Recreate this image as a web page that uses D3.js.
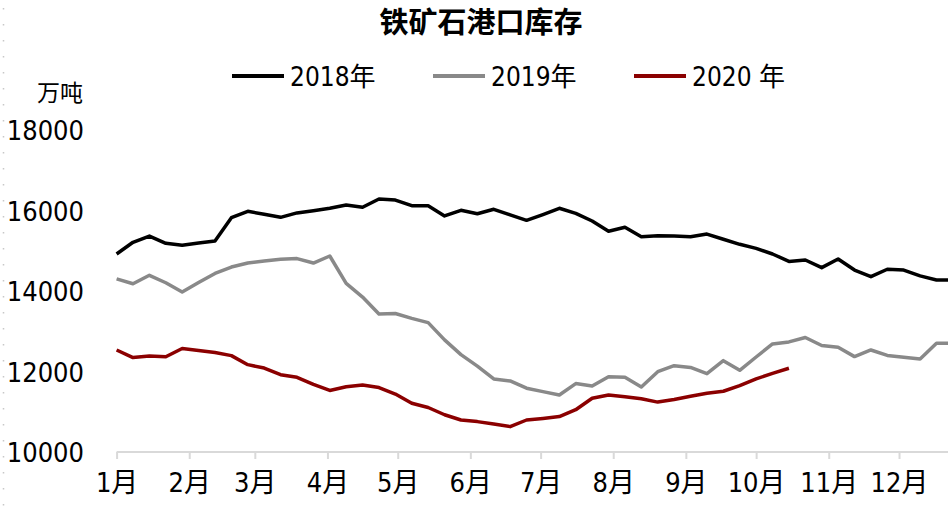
<!DOCTYPE html>
<html>
<head>
<meta charset="utf-8">
<style>
  body { margin: 0; background: #fff; }
  svg text { font-family: "Liberation Sans Narrow", "DejaVu Sans Condensed", "Noto Sans CJK SC", sans-serif; fill: #000; }
  .title { font-family: "Noto Sans CJK SC", sans-serif; font-weight: bold; font-size: 29px; }
  .axis text { font-size: 27px; }
  .legend text { font-size: 26px; }
</style>
</head>
<body>
<svg id="chart" width="948" height="509"></svg>
<script src="https://cdn.jsdelivr.net/npm/d3@7"></script>
<script>
// weekly readings, first week starting 1 Jan
var years = ["2018年", "2019年", "2020 年"];
var colors = ["#000000", "#898989", "#8b0000"];

var v2018 = [14920, 15210, 15365, 15185, 15135, 15190, 15240, 15820, 15980, 15905,
  15830, 15940, 15995, 16055, 16135, 16080, 16285, 16260, 16120, 16120,
  15865, 16005, 15920, 16030, 15890, 15755, 15900, 16055, 15930, 15740,
  15485, 15585, 15350, 15375, 15365, 15350, 15415, 15285, 15160, 15060,
  14920, 14735, 14770, 14580, 14795, 14520, 14355, 14540, 14520, 14375,
  14275, 14275];

var v2019 = [14300, 14180, 14390, 14205, 13975, 14210, 14435, 14595, 14695, 14745,
  14790, 14805, 14695, 14870, 14190, 13850, 13430, 13440, 13320, 13215,
  12785, 12420, 12135, 11815, 11765, 11585, 11500, 11415, 11700, 11640,
  11870, 11855, 11615, 11995, 12145, 12100, 11945, 12270, 12030, 12360,
  12685, 12735, 12845, 12645, 12600, 12370, 12535, 12400, 12355, 12310,
  12700, 12700];

var v2020 = [12535, 12345, 12385, 12365, 12570, 12520, 12470, 12395, 12170, 12085,
  11920, 11855, 11680, 11530, 11620, 11665, 11600, 11440, 11210, 11105,
  10925, 10795, 10755, 10695, 10630, 10795, 10835, 10880, 11050, 11335,
  11415, 11375, 11325, 11240, 11305, 11385, 11460, 11510, 11650, 11815,
  11955, 12080];

var yTicks = [10000, 12000, 14000, 16000, 18000];
var monthLabels = ["1月", "2月", "3月", "4月", "5月", "6月", "7月", "8月", "9月", "10月", "11月", "12月"];

var svg = d3.select("#chart");
var start = new Date(2019, 0, 1);

var x = d3.scaleTime()
  .domain([start, new Date(2019, 11, 31)])
  .range([116.6, 969.3]);
var y = d3.scaleLinear()
  .domain([10000, 18000])
  .range([452, 130]);

function toPoints(vals) {
  return vals.map(function(v, i) { return { date: d3.timeDay.offset(start, 7 * i), value: v }; });
}
var series = [v2018, v2019, v2020].map(toPoints);

// dotted frame edge on the left
svg.append("line")
  .attr("x1", 3.5).attr("x2", 3.5).attr("y1", 8).attr("y2", 509)
  .attr("stroke", "#c8c8c8").attr("stroke-width", 1.5)
  .attr("stroke-dasharray", "1.5,14.5");

svg.append("text").attr("class", "title")
  .attr("x", 481).attr("y", 33)
  .attr("text-anchor", "middle")
  .text("铁矿石港口库存");

// legend
var legendX = [232, 433, 634];
var legend = svg.append("g").attr("class", "legend");
years.forEach(function(name, i) {
  legend.append("line")
    .attr("x1", legendX[i]).attr("x2", legendX[i] + 52)
    .attr("y1", 76).attr("y2", 76)
    .attr("stroke", colors[i]).attr("stroke-width", 4);
  legend.append("text")
    .attr("x", legendX[i] + 58).attr("y", 86)
    .text(name);
});

svg.append("text")
  .attr("x", 83).attr("y", 101)
  .attr("text-anchor", "end")
  .style("font-size", "23px")
  .style("font-family", "'Noto Sans CJK SC', sans-serif")
  .text("万吨");

// y axis: labels only
svg.append("g").attr("class", "axis")
  .attr("transform", "translate(84,0)")
  .call(d3.axisLeft(y).tickValues(yTicks).tickSize(0).tickPadding(0).tickFormat(d3.format("d")))
  .call(function(g) { g.select(".domain").remove(); })
  .selectAll("text").attr("dy", "0.36em");

// x axis
var xAxis = svg.append("g").attr("class", "axis")
  .attr("transform", "translate(0,452)")
  .call(d3.axisBottom(x).ticks(d3.timeMonth.every(1)).tickSize(7).tickPadding(14)
    .tickFormat(function(d) { return monthLabels[d.getMonth()]; }));
xAxis.select(".domain").attr("stroke", "#d9d9d9").attr("stroke-width", 2)
  .attr("d", "M116.6,0H948");
xAxis.selectAll(".tick line").attr("stroke", "#d9d9d9").attr("stroke-width", 2);
xAxis.selectAll(".tick text").attr("dy", "0.71em");

var line = d3.line()
  .x(function(d) { return x(d.date); })
  .y(function(d) { return y(d.value); });

series.forEach(function(pts, i) {
  svg.append("path")
    .datum(pts)
    .attr("fill", "none")
    .attr("stroke", colors[i])
    .attr("stroke-width", 3.5)
    .attr("stroke-linejoin", "round")
    .attr("d", line);
});
</script>
</body>
</html>
